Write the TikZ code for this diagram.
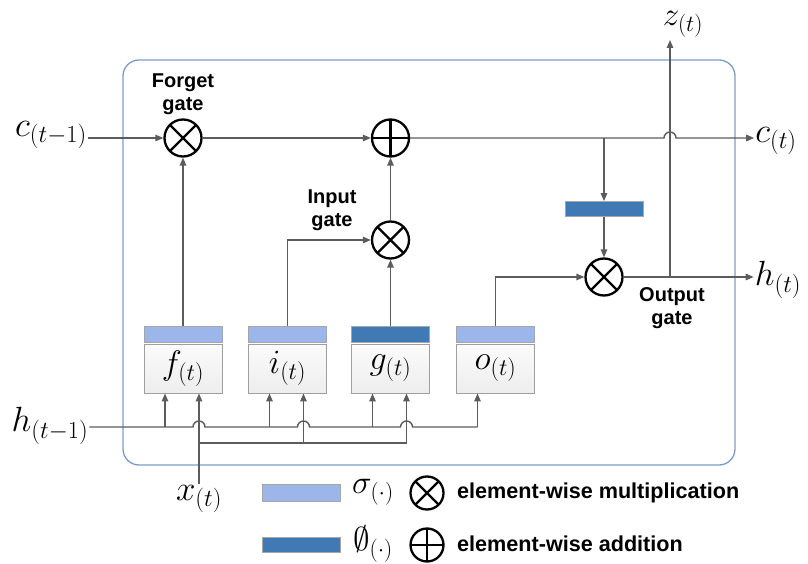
\RequirePackage{fix-cm}
\documentclass[tikz,border=0pt]{standalone}
\usepackage{fontspec}
\newfontfamily\gatefont{Liberation Sans}
\usetikzlibrary{arrows.meta}

\definecolor{sigblue}{HTML}{9DB6EA}
\definecolor{tanhblue}{HTML}{3F7AB4}
\definecolor{frameblue}{HTML}{7C9CC6}
\definecolor{wire}{HTML}{5C5C5C}

\begin{document}
\begin{tikzpicture}[x=1pt, y=-1pt,
  conn/.style={draw=wire, line width=1.4pt},
  arr/.style={conn, -{Triangle[length=8pt,width=6.5pt]}},
  op/.style={circle, draw=black, line width=2.3pt, minimum size=37pt, inner sep=0pt, fill=white},
  mult/.style={op, path picture={\draw[line width=2.3pt]
      (path picture bounding box.center) ++(45:20pt) -- ++(225:40pt)
      (path picture bounding box.center) ++(135:20pt) -- ++(315:40pt);}},
  plus/.style={op, path picture={\draw[line width=2.3pt]
      (path picture bounding box.center) ++(0:20pt) -- ++(180:40pt)
      (path picture bounding box.center) ++(90:20pt) -- ++(270:40pt);}},
  gatebox/.style={rectangle, draw=gray!75, line width=0.9pt, minimum width=78pt, minimum height=49pt,
      top color=gray!3, bottom color=gray!14, font=\fontsize{34}{38}\selectfont},
  sigbar/.style={rectangle, draw=gray!70, line width=0.8pt, fill=sigblue, minimum width=78pt, minimum height=16pt, inner sep=0pt},
  tanhbar/.style={sigbar, fill=tanhblue},
  mlabel/.style={inner sep=1pt, font=\fontsize{35}{40}\selectfont},
  gatelabel/.style={align=center, inner sep=0pt, font=\gatefont\bfseries\fontsize{20}{23}\selectfont},
  legtxt/.style={inner sep=0pt, anchor=west, font=\gatefont\bfseries\fontsize{21.6}{25}\selectfont}
]
\useasboundingbox (0,0) rectangle (808,564);

% --- cell frame ---
\draw[frameblue, line width=1.3pt, rounded corners=16pt] (123,60) rectangle (735,465);

% --- gate boxes and their activation bars ---
\node[gatebox] (fbox) at (183,368.5) {$f_{(t)}$};
\node[gatebox] (ibox) at (287.5,368.5) {$i_{(t)}$};
\node[gatebox] (gbox) at (390.5,368.5) {$g_{(t)}$};
\node[gatebox] (obox) at (495.5,368.5) {$o_{(t)}$};

\node[sigbar] (fbar) at (183,334) {};
\node[sigbar] (ibar) at (287.5,334) {};
\node[tanhbar] (gbar) at (390.5,334) {};
\node[sigbar] (obar) at (495.5,334) {};

% --- pointwise operations ---
\node[mult] (fg) at (183,138) {};
\node[plus] (add) at (390.5,138) {};
\node[mult] (ig) at (390.5,240) {};
\node[mult] (og) at (604,277) {};
\node[tanhbar, minimum height=15pt] (ctanh) at (604,209) {};

% --- gate names ---
\node[gatelabel] (fname) at (183,94) {Forget\\gate};
\node[gatelabel] (iname) at (332,210) {Input\\gate};
\node[gatelabel] (oname) at (672,308) {Output\\gate};

% --- inputs and outputs ---
\node[mlabel] (cin) at (51,135) {$c_{(t-1)}$};
\node[mlabel] (hin) at (50,426) {$h_{(t-1)}$};
\node[mlabel] (xin) at (199,499) {$x_{(t)}$};
\node[mlabel] (cout) at (776,141) {$c_{(t)}$};
\node[mlabel] (hout) at (778,280) {$h_{(t)}$};
\node[mlabel, font=\fontsize{33}{38}\selectfont] (zout) at (683,24) {$z_{(t)}$};

\coordinate (ctap) at (ctanh.north |- add.east);
\coordinate (ztap) at (670,277);
\coordinate (ztop) at (670,40);

% --- cell state line ---
\draw[arr] (cin.east |- fg.west) -- (fg.west);
\draw[arr] (fg.east) -- (add.west);
\draw[arr] (add.east) -- (664,138) arc[start angle=180, end angle=0, radius=6pt] -- (cout.west |- add.east);
\draw[arr] (ctap) -- (ctanh.north);
\draw[arr] (ctanh.south) -- (og.north);

% --- hidden output ---
\draw[arr] (og.east) -- (hout.west |- og.east);
\draw[arr] (ztap) -- (ztop);

% --- gates up to the operations ---
\draw[arr] (fbar.north) -- (fg.south);
\draw[arr] (ibar.north) |- (ig.west);
\draw[arr] (gbar.north) -- (ig.south);
\draw[arr] (ig.north) -- (add.south);
\draw[arr] (obar.north) |- (og.west);

% --- h(t-1) feed, hopping over the x(t) lines ---
\draw[conn] (hin.east |- 0,427) -- (193,427) arc[start angle=180, end angle=0, radius=6pt]
  -- (297.5,427) arc[start angle=180, end angle=0, radius=6pt]
  -- (400.5,427) arc[start angle=180, end angle=0, radius=6pt] -- (477.5,427);
\foreach \g in {fbox,ibox,gbox,obox}
  \draw[arr] ([xshift=-18pt]\g.south |- 0,427) -- ([xshift=-18pt]\g.south);

% --- x(t) feed ---
\draw[arr] (xin.north) -- (xin.north |- fbox.south);
\draw[conn] (199,443) -- (406.5,443);
\draw[arr] (303.5,443) -- ([xshift=16pt]ibox.south);
\draw[arr] (406.5,443) -- ([xshift=16pt]gbox.south);

% --- legend ---
\node[sigbar, minimum height=17pt] (legsig) at (301.5,493) {};
\node[mlabel, font=\fontsize{33}{38}\selectfont] (legsigtxt) at (373,492) {$\sigma_{(\cdot)}$};
\node[mult, minimum size=33pt] (legmult) at (427,493) {};
\node[legtxt] (legmulttxt) at (457,493) {element-wise multiplication};

\node[tanhbar, minimum height=15pt] (legtanh) at (301.5,544.5) {};
\node[mlabel, font=\fontsize{33}{38}\selectfont] (legtanhtxt) at (373,544) {$\emptyset_{(\cdot)}$};
\node[plus, minimum size=33pt] (legplus) at (427,545) {};
\node[legtxt] (legplustxt) at (457,544) {element-wise addition};
\end{tikzpicture}
\end{document}
